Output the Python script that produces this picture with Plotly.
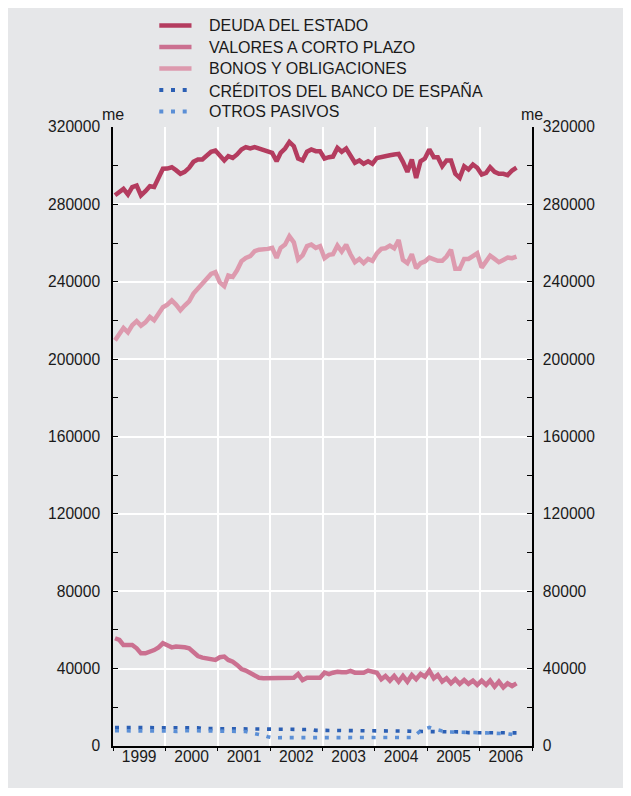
import plotly.graph_objects as go

# Monthly observations, January 1999 to September 2006 (mid-month stamps)
START_YEAR = 1999
N_MONTHS = 93
months = [f"{START_YEAR + m // 12}-{m % 12 + 1:02d}-15" for m in range(N_MONTHS)]

deuda_estado = [
    284700, 286800, 288000, 285100, 288900, 289700, 284600, 286800, 289400, 289000,
    293700, 298400, 298500, 299200, 297700, 295800, 296800, 298900, 302000, 303200,
    303200, 304900, 307200, 307800, 305400, 302700, 304900, 304000, 305800, 308400,
    309600, 308900, 309600, 308900, 308200, 307500, 306600, 302300, 306600, 308900,
    312300, 310100, 303700, 302700, 307200, 308400, 307500, 307500, 303700, 304400,
    304700, 309200, 307200, 308900, 305400, 301500, 302700, 301000, 302300, 301000,
    304000, 304600, 305400, 305400, 305800, 306100, 302000, 296800, 303200, 293700,
    302300, 303700, 308400, 304400, 304400, 299700, 302700, 302700, 295800, 293700,
    299700, 298000, 300600, 298900, 295400, 296300, 299200, 296800, 295800, 295800,
    295100, 297500, 299000,
]

valores_corto_plazo = [
    55700, 54800, 52200, 52200, 52200, 50500, 47900, 47900, 48600, 49600,
    51000, 53100, 52100, 51000, 51400, 51400, 51000, 50500, 48800, 46500,
    45700, 45200, 44500, 44500, 45900, 46200, 44500, 43600, 41900, 39800,
    39000, 37900, 36700, 35300, 35000, 35000, 35000, 35300, 35300, 35300,
    35300, 35300, 37200, 34100, 35300, 35300, 35300, 35300, 37900, 37200,
    37900, 38400, 38100, 38100, 38800, 37900, 37900, 37900, 39000, 38400,
    37900, 34500, 36200, 33800, 36200, 33300, 36200, 33300, 36700, 34500,
    37200, 35800, 39000, 35000, 36700, 33300, 35000, 32400, 34500, 32100,
    34100, 32100, 33800, 31600, 33800, 31600, 33800, 30700, 33300, 30300,
    32400, 31000, 32400,
]

bonos_obligaciones = [
    209700, 213500, 216100, 213800, 217500, 219600, 217300, 219000, 221800, 220100,
    223500, 226800, 228200, 230400, 228200, 225300, 227700, 229900, 233900, 236300,
    238600, 241100, 244000, 244900, 239700, 237700, 243200, 242500, 245900, 250600,
    252300, 253200, 255800, 256600, 256600, 257000, 257500, 252300, 257500, 259200,
    263500, 260400, 251500, 253600, 258400, 259200, 257500, 258400, 252200, 253900,
    254200, 258700, 255600, 259100, 254200, 250100, 251800, 249600, 251800, 250800,
    254700, 257000, 257300, 258700, 257300, 261600, 251300, 249600, 254200, 247000,
    249600, 250500, 252500, 251300, 250800, 250800, 253000, 256500, 246700, 246700,
    251800, 251800, 253000, 254700, 247300, 250500, 253500, 251800, 250100, 251300,
    252500, 252200, 253000,
]

creditos_banco_espana = [
    9500, 9600, 9500, 9500, 9600, 9500, 9500, 9400, 9500, 9500,
    9500, 9400, 9500, 9500, 9400, 9500, 9400, 9500, 9400, 9400,
    9000, 9000, 8900, 9000, 9000, 8900, 9000, 9000, 8900, 9000,
    9000, 8900, 8900, 8600, 8600, 8600, 8700, 8600, 8600, 8600,
    8600, 8600, 8600, 8500, 8600, 8600, 8100, 8100, 8100, 8100,
    8100, 8100, 8100, 8100, 8000, 8100, 8100, 8100, 8100, 7800,
    7800, 7800, 7800, 7700, 7800, 7800, 7700, 7700, 7600, 7500,
    7400, 7400, 7400, 7400, 7400, 7400, 7400, 7400, 7400, 7300,
    7300, 6900, 6900, 6900, 6900, 6900, 6900, 6900, 6900, 6900,
    6900, 6800, 6800,
]

otros_pasivos = [
    7900, 7900, 7900, 8000, 7900, 7900, 7900, 7900, 7800, 7900,
    7900, 7900, 7900, 7700, 7500, 7900, 7900, 7900, 7900, 7900,
    7900, 7900, 7900, 7900, 7900, 7900, 7900, 7900, 7900, 7900,
    7500, 6900, 6500, 6200, 5500, 4800, 4300, 4300, 4300, 4300,
    4300, 4300, 4300, 4400, 4300, 4300, 4300, 4300, 4300, 4300,
    4300, 4300, 4300, 4300, 4300, 4300, 4300, 4300, 4300, 4300,
    4300, 4600, 4600, 4700, 4600, 4600, 4400, 4400, 4400, 6000,
    7900, 8800, 9600, 8800, 8200, 7900, 7200, 7200, 7200, 7200,
    7000, 6900, 6900, 6900, 6800, 6800, 6700, 6700, 6600, 6500,
    6300, 6000, 5600,
]

series_names = [
    "DEUDA DEL ESTADO",
    "VALORES A CORTO PLAZO",
    "BONOS Y OBLIGACIONES",
    "CRÉDITOS DEL BANCO DE ESPAÑA",
    "OTROS PASIVOS",
]
series_values = [
    deuda_estado,
    valores_corto_plazo,
    bonos_obligaciones,
    creditos_banco_espana,
    otros_pasivos,
]
series_colors = ["#b43c5f", "#cb7090", "#dd9aae", "#2b5fb4", "#5b8fd6"]
series_dash = ["solid", "solid", "solid", "4px,7.7px", "4px,7.7px"]
series_width = [4.5, 4.5, 4.5, 3.6, 3.6]

Y_MAX = 320000
Y_DTICK = 40000
Y_MINOR = 20000

PANEL = "#e6e7e9"
INK = "#1a1a1a"
FONT = "Liberation Sans, Arial, sans-serif"

W, H = 631, 796
ML, MR, MT, MB = 113, 99, 127, 50
PW, PH = W - ML - MR, H - MT - MB


def px_x(p):
    return (p - ML) / PW


def px_y(p):
    return (H - MB - p) / PH


fig = go.Figure()
for name, vals, col, dash, lw in zip(series_names, series_values, series_colors,
                                     series_dash, series_width):
    fig.add_trace(go.Scatter(
        x=months, y=vals, name=name, mode="lines",
        line=dict(color=col, width=lw, dash=dash),
        showlegend=False, hoverinfo="x+y",
    ))

shapes = [
    # grey panel behind the whole chart
    dict(type="rect", xref="paper", yref="paper", layer="below",
         x0=px_x(8), x1=px_x(623), y0=px_y(788), y1=px_y(8),
         fillcolor=PANEL, line=dict(width=0)),
]
annotations = []

# key: swatch + label for each series, stacked above the plot
for k, (name, col, dash, lw) in enumerate(zip(series_names, series_colors,
                                              series_dash, series_width)):
    yy = px_y(25.5 + 21.5 * k)
    x_end = 191.5 if dash == "solid" else 187.2
    shapes.append(dict(type="line", xref="paper", yref="paper",
                       x0=px_x(159.3), x1=px_x(x_end), y0=yy, y1=yy,
                       line=dict(color=col, width=4.4 if dash == "solid" else 4,
                                 dash=dash)))
    annotations.append(dict(xref="paper", yref="paper", x=px_x(207), y=yy,
                            xanchor="left", yanchor="middle", showarrow=False,
                            text=name, font=dict(family=FONT, size=16, color=INK)))

for xp in (0, 1):
    annotations.append(dict(xref="paper", yref="paper", x=xp, y=px_y(114.5),
                            xanchor="center", yanchor="middle", showarrow=False,
                            text="me", font=dict(family=FONT, size=16, color=INK)))

yaxis_common = dict(
    range=[0, Y_MAX], dtick=Y_DTICK, tick0=0, tickformat="d",
    ticks="inside", ticklen=5, tickwidth=1.2, tickcolor="black",
    minor=dict(dtick=Y_MINOR, tick0=0, ticks="inside", ticklen=5,
               tickwidth=1.2, tickcolor="black", showgrid=False),
    showline=True, linecolor="black", linewidth=1.5,
    tickfont=dict(family=FONT, size=15.6, color=INK),
    zeroline=False, fixedrange=True,
)

fig.update_layout(
    width=W, height=H,
    margin=dict(l=ML, r=MR, t=MT, b=MB, autoexpand=False),
    paper_bgcolor="white", plot_bgcolor=PANEL,
    font=dict(family=FONT, size=16, color=INK),
    xaxis=dict(
        type="date", range=["1999-01-01", "2007-01-01"],
        dtick="M12", tick0="1999-01-01", tickformat="%Y",
        ticklabelmode="period", ticklabelstandoff=-8,
        showgrid=True, gridcolor="white", gridwidth=1.6,
        showline=True, linecolor="black", linewidth=2,
        ticks="outside", ticklen=3, tickwidth=1.2, tickcolor="black",
        tickfont=dict(family=FONT, size=15.6, color=INK),
        zeroline=False, fixedrange=True,
    ),
    yaxis=dict(**yaxis_common, side="left", showgrid=True, gridcolor="white",
               gridwidth=1.6, ticklabelstandoff=8),
    yaxis2=dict(**yaxis_common, side="right", overlaying="y", showgrid=False,
                ticklabelstandoff=6),
    shapes=shapes,
    annotations=annotations,
    showlegend=False,
)

# invisible trace so the right-hand axis is laid out
fig.add_trace(go.Scatter(x=[months[0]], y=[0], yaxis="y2", mode="markers",
                         marker=dict(opacity=0), showlegend=False, hoverinfo="skip"))

fig.write_html("out.html")
